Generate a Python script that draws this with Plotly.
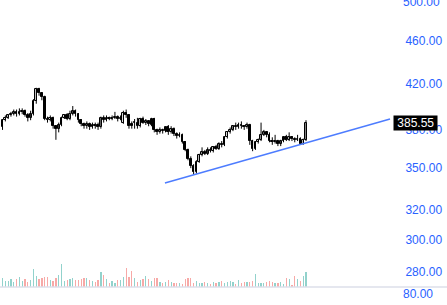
import math
import plotly.graph_objects as go

# ---- data ----
opens = [382, 388, 390, 392, 393, 395, 393, 395, 396, 392,
         390, 393, 404, 415, 411, 408, 389, 388, 390, 383,
         381, 384, 390, 392, 389, 393, 396, 393, 388, 385,
         383, 385, 382, 384, 384, 382, 390, 388, 390, 389,
         390, 391, 389, 386, 394, 392, 385, 386, 386, 383,
         389, 386, 387, 384, 389, 380, 378, 380, 379, 382,
         378, 381, 377, 375, 376, 370, 364, 357, 352, 347,
         355, 360, 362, 361, 364, 363, 366, 365, 369, 368,
         374, 378, 380, 383, 382, 384, 383, 382, 384, 371,
         365, 370, 372, 376, 378, 376, 371, 370, 371, 369,
         371, 374, 372, 374, 373, 372, 373, 369, 372]
closes = [388, 390, 392, 393, 395, 393, 395, 396, 392, 390,
          393, 404, 415, 411, 408, 389, 388, 390, 383, 381,
          384, 390, 392, 389, 393, 396, 393, 388, 385, 383,
          385, 382, 384, 383, 382, 390, 388, 390, 389, 390,
          391, 389, 390, 394, 392, 383, 383, 386, 383, 389,
          386, 387, 385, 389, 380, 378, 380, 379, 382, 378,
          381, 377, 375, 376, 370, 364, 357, 352, 347, 355,
          360, 362, 361, 364, 363, 366, 365, 369, 368, 374,
          378, 380, 383, 382, 384, 383, 382, 384, 371, 365,
          370, 372, 376, 378, 376, 371, 370, 371, 369, 371,
          374, 372, 374, 373, 372, 373, 369, 372, 385.55]
highs = [389, 392, 393, 395, 397, 397, 398, 398, 397, 394,
         396, 406, 416, 416, 412, 409, 391, 392, 391, 384,
         386, 391, 393, 394, 396, 400, 397, 394, 389, 386,
         387, 386, 386, 386, 386, 391, 392, 392, 391, 392,
         395, 392, 392, 396, 397, 393, 387, 389, 390, 390,
         391, 389, 388, 390, 390, 381, 382, 381, 383, 384,
         383, 382, 378, 378, 377, 371, 365, 359, 353, 356,
         361, 366, 364, 366, 366, 367, 368, 370, 371, 375,
         379, 382, 384, 386, 386, 387, 384, 386, 385, 372,
         371, 373, 386, 380, 379, 378, 374, 376, 372, 372,
         375, 376, 378, 375, 374, 376, 374, 373, 388]
lows = [380, 387, 389, 391, 392, 391, 392, 393, 391, 387,
        388, 392, 402, 409, 405, 388, 386, 387, 381, 372,
        378, 383, 389, 388, 388, 392, 391, 386, 383, 381,
        381, 380, 381, 381, 380, 381, 386, 387, 388, 388,
        389, 387, 388, 385, 390, 381, 381, 381, 381, 382,
        385, 384, 383, 383, 378, 376, 377, 377, 378, 376,
        377, 375, 373, 374, 369, 363, 356, 350, 345, 346,
        354, 359, 360, 360, 362, 362, 364, 364, 366, 367,
        373, 377, 379, 380, 381, 381, 380, 381, 368, 363,
        364, 369, 371, 375, 374, 370, 368, 369, 367, 367,
        370, 371, 371, 371, 370, 371, 368, 368, 371]
volumes = [900, 600, 600, 800, 500, 800, 1000, 600, 800, 500,
           700, 1800, 1100, 800, 900, 1000, 1000, 700, 600, 900,
           1200, 2300, 600, 700, 800, 900, 700, 700, 800, 900,
           900, 700, 600, 500, 700, 1500, 1200, 800, 400, 600,
           400, 700, 700, 1000, 1900, 1000, 1600, 900, 500, 700,
           800, 1100, 800, 600, 900, 900, 500, 400, 500, 700,
           500, 400, 400, 400, 300, 800, 900, 900, 400, 600,
           400, 400, 500, 400, 300, 500, 400, 500, 600, 400,
           500, 600, 500, 300, 700, 400, 500, 500, 500, 600,
           1300, 400, 400, 400, 500, 600, 500, 400, 400, 500,
           300, 900, 800, 200, 1100, 800, 600, 1100, 1500]
trend_x = [57.8, 137.9]
trend_y = [339.0, 389.0]
price_ticks = [280, 300, 320, 350, 380, 420, 460]
top_tick = 500
lower_pane_label = "80.00"

idx = list(range(len(closes)))
up_col = "rgba(38,166,154,0.5)"
dn_col = "rgba(239,83,80,0.5)"
is_up = [c >= o for o, c in zip(opens, closes)]
vol_colors = [up_col if u else dn_col for u in is_up]

blue = "#2962ff"
fig = go.Figure()

# volume
fig.add_trace(go.Bar(
    x=idx, y=volumes, marker_color=vol_colors, marker_line_width=0,
    width=0.45, yaxis="y2", hoverinfo="skip", showlegend=False))

# wicks
wx, wy = [], []
for i, h, l in zip(idx, highs, lows):
    wx += [i, i, None]
    wy += [l, h, None]
fig.add_trace(go.Scatter(x=wx, y=wy, mode="lines",
                         line=dict(color="black", width=1),
                         hoverinfo="skip", showlegend=False))

# bodies
for up, fill in [(True, "white"), (False, "black")]:
    bx = [i for i in idx if is_up[i] == up]
    base = [min(opens[i], closes[i]) for i in bx]
    top = [max(opens[i], closes[i]) for i in bx]
    fig.add_trace(go.Bar(
        x=bx, base=base, y=[t - b if t - b > 0.4 else 0.4 for t, b in zip(top, base)],
        width=0.62, marker=dict(color=fill, line=dict(color="black", width=1)),
        hoverinfo="skip", showlegend=False))

# trend line
fig.add_trace(go.Scatter(
    x=trend_x, y=trend_y, mode="lines",
    line=dict(color="#4d7cff", width=1.4), showlegend=False, hoverinfo="skip"))

nb = "\u00a0"
fig.update_layout(
    width=447, height=305,
    margin=dict(l=0, r=55, t=0, b=18),
    paper_bgcolor="white", plot_bgcolor="white",
    barmode="overlay", bargap=0,
    font=dict(family="Liberation Sans, Arial, sans-serif", size=12, color=blue),
    xaxis=dict(range=[-0.9, 138.6], showgrid=False, zeroline=False,
               showticklabels=False, showline=False),
    yaxis=dict(type="log", side="right",
               range=[math.log10(271.1), math.log10(502.4)],
               tickvals=price_ticks,
               ticktext=[f"{v:.2f}" for v in price_ticks],
               showgrid=False, zeroline=False, ticks="outside",
               ticklen=10, tickcolor="rgba(0,0,0,0)",
               tickfont=dict(color=blue, size=12)),
    yaxis2=dict(overlaying="y", range=[0, 28700], visible=False),
    shapes=[dict(type="line", xref="paper", yref="paper", x0=0, x1=447/392,
                 y0=0, y1=0, line=dict(color="#dcdfea", width=1.5))],
    annotations=[
        dict(xref="paper", yref="y", x=1, y=math.log10(top_tick),
             text=f"{top_tick:.2f}", showarrow=False, xanchor="left",
             yanchor="middle", xshift=9, font=dict(color=blue, size=12)),
        dict(xref="paper", yref="y", x=1, y=math.log10(closes[-1]),
             text=f"{nb}{closes[-1]:.2f}{nb}", showarrow=False, xanchor="left",
             xshift=1, bgcolor="black", font=dict(color="white", size=12),
             borderpad=0),
        dict(xref="paper", yref="paper", x=1, y=-7/287, text=lower_pane_label,
             showarrow=False, xanchor="left", yanchor="middle", xshift=9,
             font=dict(color=blue, size=12)),
    ],
)

fig.write_html("out.html")
